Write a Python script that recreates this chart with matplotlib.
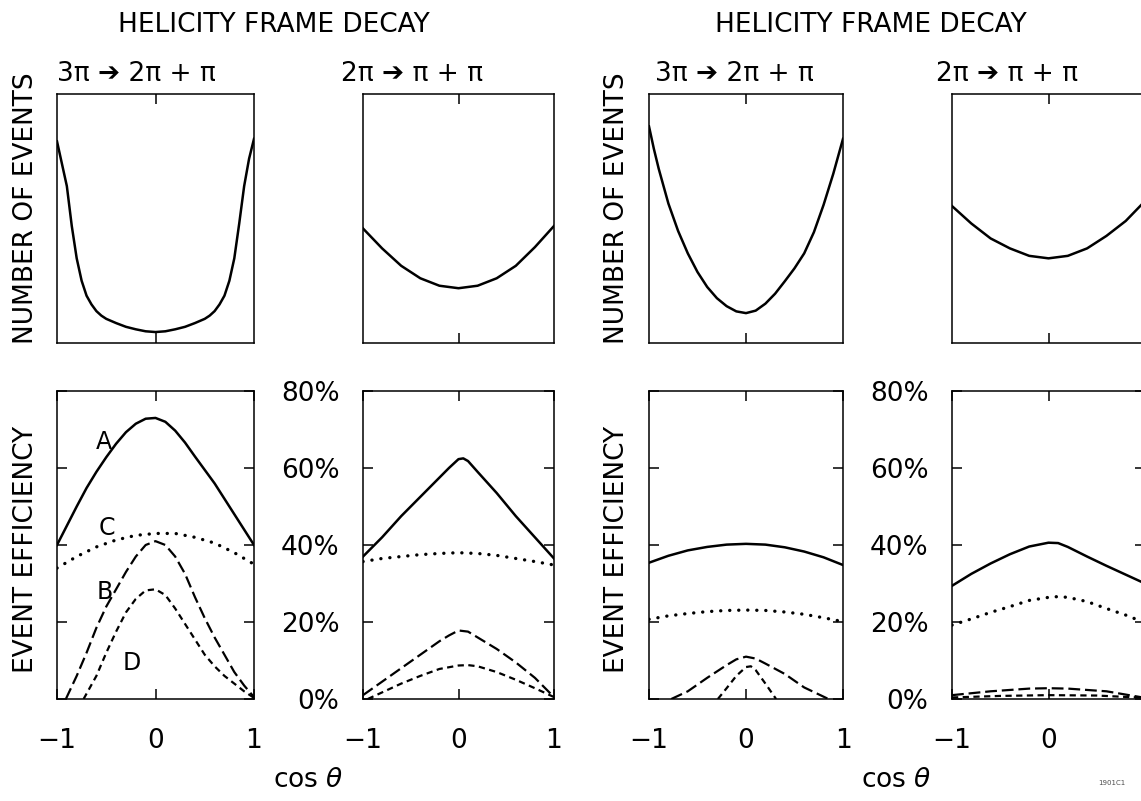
import matplotlib.pyplot as plt

plt.rcParams['font.family'] = ['DejaVu Sans']
plt.rcParams['mathtext.fontset'] = 'dejavusans'
plt.rcParams['lines.scale_dashes'] = False

# ---- Distribuciones angulares (unidades arbitrarias) ----
# Grupo izquierdo, 3pi -> 2pi + pi
cos_n_l1 = [-1, -0.95, -0.9, -0.85, -0.8, -0.75, -0.7, -0.65, -0.6, -0.55, -0.5, -0.4, -0.3, -0.2, -0.1, 0,
            0.1, 0.2, 0.3, 0.4, 0.5, 0.55, 0.6, 0.65, 0.7, 0.75, 0.8, 0.85, 0.9, 0.95, 1]
n_l1 = [0.81, 0.72, 0.63, 0.47, 0.34, 0.25, 0.19, 0.155, 0.128, 0.11, 0.097, 0.08, 0.065, 0.055, 0.047, 0.044,
        0.047, 0.055, 0.065, 0.08, 0.097, 0.11, 0.128, 0.155, 0.19, 0.25, 0.34, 0.48, 0.63, 0.74, 0.82]
# Grupo izquierdo, 2pi -> pi + pi
cos_n_l2 = [-1, -0.8, -0.6, -0.4, -0.2, 0, 0.2, 0.4, 0.6, 0.8, 1]
n_l2 = [0.46, 0.38, 0.31, 0.26, 0.23, 0.22, 0.23, 0.26, 0.31, 0.385, 0.47]
# Grupo derecho, 3pi -> 2pi + pi
cos_n_r1 = [-1, -0.95, -0.9, -0.8, -0.7, -0.6, -0.5, -0.4, -0.3, -0.2, -0.1, 0,
            0.1, 0.2, 0.3, 0.4, 0.5, 0.6, 0.7, 0.8, 0.9, 0.95, 1]
n_r1 = [0.87, 0.78, 0.70, 0.56, 0.45, 0.36, 0.285, 0.225, 0.18, 0.148, 0.127, 0.12,
        0.13, 0.158, 0.198, 0.248, 0.30, 0.36, 0.445, 0.555, 0.68, 0.75, 0.82]
# Grupo derecho, 2pi -> pi + pi
cos_n_r2 = [-1, -0.8, -0.6, -0.4, -0.2, 0, 0.2, 0.4, 0.6, 0.8, 1]
n_r2 = [0.55, 0.48, 0.42, 0.38, 0.35, 0.34, 0.35, 0.38, 0.43, 0.49, 0.57]

# ---- Eficiencias (%) ----
# Izquierda, 3pi
cos_a_l1 = [-1, -0.9, -0.8, -0.7, -0.6, -0.5, -0.4, -0.3, -0.2, -0.1, 0,
            0.1, 0.2, 0.3, 0.4, 0.5, 0.6, 0.7, 0.8, 0.9, 1]
eff_a_l1 = [40, 45, 50, 54.8, 59, 62.8, 66.3, 69.3, 71.5, 72.8, 73,
            72, 69.7, 66.6, 63, 59.5, 56, 52, 48, 44, 40]
cos_c_l1 = [-1, -0.8, -0.6, -0.4, -0.2, 0, 0.2, 0.4, 0.6, 0.8, 1]
eff_c_l1 = [34, 37, 39.5, 41.3, 42.5, 43, 43, 42, 40.5, 38, 35]
cos_b_l1 = [-0.91, -0.8, -0.7, -0.6, -0.5, -0.4, -0.3, -0.2, -0.1, 0,
            0.1, 0.2, 0.3, 0.4, 0.5, 0.6, 0.7, 0.8, 0.9, 1]
eff_b_l1 = [0, 6, 12, 18.5, 24, 28.5, 33, 37, 40, 41,
            40, 37, 32.5, 26.5, 21, 16, 11.5, 7, 3.5, 0.5]
cos_d_l1 = [-0.73, -0.6, -0.5, -0.4, -0.3, -0.2, -0.1, 0,
            0.1, 0.2, 0.3, 0.4, 0.5, 0.6, 0.7, 0.8, 0.9, 1]
eff_d_l1 = [0, 6, 12, 17.5, 22.5, 26, 28.2, 28.5,
            27, 23.5, 19.5, 15.5, 11.5, 8.5, 6, 4, 2, 0.3]
# Izquierda, 2pi
cos_a_l2 = [-1, -0.8, -0.6, -0.4, -0.2, -0.1, 0, 0.05, 0.1, 0.2, 0.4, 0.6, 0.8, 1]
eff_a_l2 = [37, 42, 47.5, 52.5, 57.5, 60, 62.3, 62.5, 61.8, 59, 53.5, 47.5, 42, 36.5]
cos_c_l2 = [-1, -0.8, -0.6, -0.4, -0.2, 0, 0.2, 0.4, 0.6, 0.8, 1]
eff_c_l2 = [35.7, 36.5, 37, 37.5, 37.8, 38, 37.8, 37.3, 36.5, 35.7, 34.8]
cos_b_l2 = [-1, -0.8, -0.6, -0.4, -0.2, -0.1, 0, 0.1, 0.2, 0.4, 0.6, 0.8, 1]
eff_b_l2 = [1, 4.5, 8, 11.5, 15, 16.5, 17.8, 17.5, 16, 13, 9.5, 5.5, 0.5]
cos_d_l2 = [-0.95, -0.6, -0.4, -0.2, 0, 0.1, 0.2, 0.4, 0.6, 0.8, 1]
eff_d_l2 = [0, 4, 6, 7.8, 8.7, 8.8, 8.5, 7, 5, 2.8, 0.5]
# Derecha, 3pi
cos_a_r1 = [-1, -0.8, -0.6, -0.4, -0.2, 0, 0.2, 0.4, 0.6, 0.8, 1]
eff_a_r1 = [35.4, 37.2, 38.6, 39.5, 40.1, 40.3, 40.1, 39.4, 38.3, 36.8, 34.8]
cos_c_r1 = [-1, -0.8, -0.6, -0.4, -0.2, 0, 0.2, 0.4, 0.6, 0.8, 1]
eff_c_r1 = [20.7, 21.6, 22.2, 22.7, 23, 23.1, 23, 22.6, 22, 21.1, 20.1]
cos_b_r1 = [-0.77, -0.6, -0.4, -0.2, -0.1, 0, 0.1, 0.2, 0.4, 0.6, 0.85]
eff_b_r1 = [0, 2, 5.5, 8.8, 10.3, 11, 10.5, 9.2, 6.5, 3, 0]
cos_d_r1 = [-0.29, -0.2, -0.1, 0, 0.05, 0.1, 0.2, 0.31]
eff_d_r1 = [0, 2.8, 6, 8.3, 8.5, 7.5, 4, 0]
# Derecha, 2pi
cos_a_r2 = [-1, -0.8, -0.6, -0.4, -0.2, 0, 0.1, 0.2, 0.4, 0.6, 0.8, 1]
eff_a_r2 = [29.4, 32.5, 35.2, 37.6, 39.6, 40.6, 40.5, 39.5, 37, 34.6, 32.3, 30]
cos_c_r2 = [-1, -0.8, -0.6, -0.4, -0.2, 0, 0.1, 0.2, 0.4, 0.6, 0.8, 1]
eff_c_r2 = [19.2, 20.8, 22.5, 24, 25.6, 26.4, 26.6, 26.4, 25.3, 23.5, 21.8, 19.8]
cos_b_r2 = [-1, -0.6, -0.2, 0, 0.2, 0.6, 1]
eff_b_r2 = [1, 2, 2.7, 2.8, 2.7, 2, 0.3]
cos_d_r2 = [-1, -0.5, 0, 0.5, 1]
eff_d_r2 = [0.4, 0.8, 1.0, 0.9, 0.3]

W, H = 1141, 801
fig = plt.figure(figsize=(W / 100, H / 100), dpi=100)


def caja(x0, x1, ytop, ybot):
    return [x0 / W, 1 - ybot / H, (x1 - x0) / W, (ybot - ytop) / H]


# El ultimo panel queda cortado por el borde derecho, como en la figura original
columnas = [(57, 254), (363, 554), (649, 843), (952, 1145)]
estilo = dict(color='black', lw=1.8)


def ejes_comunes(ax):
    for s in ax.spines.values():
        s.set_linewidth(1.1)
    ax.set_xlim(-1, 1)
    ax.tick_params(direction='in', length=7, width=1.1, top=True, right=True,
                   labelsize=19, pad=21)


# Paneles superiores: numero de eventos
tops = [(cos_n_l1, n_l1), (cos_n_l2, n_l2), (cos_n_r1, n_r1), (cos_n_r2, n_r2)]
for (x0, x1), (cx, ny) in zip(columnas, tops):
    ax = fig.add_axes(caja(x0, x1, 94, 343))
    ejes_comunes(ax)
    ax.plot(cx, ny, **estilo)
    ax.set_ylim(0, 1)
    ax.set_xticks([0])
    ax.set_xticklabels([])
    ax.set_yticks([])

# Paneles inferiores: eficiencia
bottoms = [
    [(cos_a_l1, eff_a_l1), (cos_c_l1, eff_c_l1), (cos_b_l1, eff_b_l1), (cos_d_l1, eff_d_l1)],
    [(cos_a_l2, eff_a_l2), (cos_c_l2, eff_c_l2), (cos_b_l2, eff_b_l2), (cos_d_l2, eff_d_l2)],
    [(cos_a_r1, eff_a_r1), (cos_c_r1, eff_c_r1), (cos_b_r1, eff_b_r1), (cos_d_r1, eff_d_r1)],
    [(cos_a_r2, eff_a_r2), (cos_c_r2, eff_c_r2), (cos_b_r2, eff_b_r2), (cos_d_r2, eff_d_r2)],
]
ejes_inf = []
for i, ((x0, x1), curvas) in enumerate(zip(columnas, bottoms)):
    ax = fig.add_axes(caja(x0, x1, 391, 699))
    ejes_comunes(ax)
    (xa, ya), (xc, yc), (xb, yb), (xd, yd) = curvas
    ax.plot(xa, ya, **estilo)
    ax.plot(xc, yc, color='black', lw=2.4, dashes=(0.1, 6.4), dash_capstyle='round')
    ax.plot(xb, yb, color='black', lw=1.6, dashes=(8.5, 3.5))
    ax.plot(xd, yd, color='black', lw=1.6, dashes=(4.5, 3.2))
    ax.set_ylim(0, 80)
    if i == 3:
        # el "1" de este panel cae fuera de la figura
        ax.set_xticks([-1, 0])
        ax.set_xticklabels(['\u22121', '0'])
    else:
        ax.set_xticks([-1, 0, 1])
        ax.set_xticklabels(['\u22121', '0', '1'])
    ax.set_yticks([0, 20, 40, 60, 80])
    if i % 2 == 1:
        ax.set_yticklabels(['0%', '20%', '40%', '60%', '80%'])
        ax.tick_params(axis='y', pad=17)
    else:
        ax.set_yticklabels([])
    ejes_inf.append(ax)

# Letras de las curvas
for letra, cx, ey in [('A', -0.52, 66.8), ('C', -0.49, 44.4), ('B', -0.52, 27.8), ('D', -0.24, 9.4)]:
    ejes_inf[0].text(cx, ey, letra, fontsize=17, ha='center', va='center')


# Textos de la figura
def texto(px, py, s, **kw):
    fig.text(px / W, 1 - py / H, s, ha='center', va='center', **kw)


for cx in (274, 871):
    texto(cx, 25, 'HELICITY FRAME DECAY', fontsize=19)
for cx in (136, 734):
    texto(cx, 74, '3\u03c0 \u2794 2\u03c0 + \u03c0', fontsize=19)
for cx in (412, 1007):
    texto(cx, 74, '2\u03c0 \u2794 \u03c0 + \u03c0', fontsize=19)
for cx in (26, 617):
    texto(cx, 208, 'NUMBER OF EVENTS', fontsize=19, rotation=90)
    texto(cx, 549, 'EVENT EFFICIENCY', fontsize=19, rotation=90)
for cx in (308, 896):
    texto(cx, 780, r'cos $\theta$', fontsize=19)
texto(1112, 783, '1901C1', fontsize=5, color='0.3')

fig.savefig('out.png', dpi=100)
